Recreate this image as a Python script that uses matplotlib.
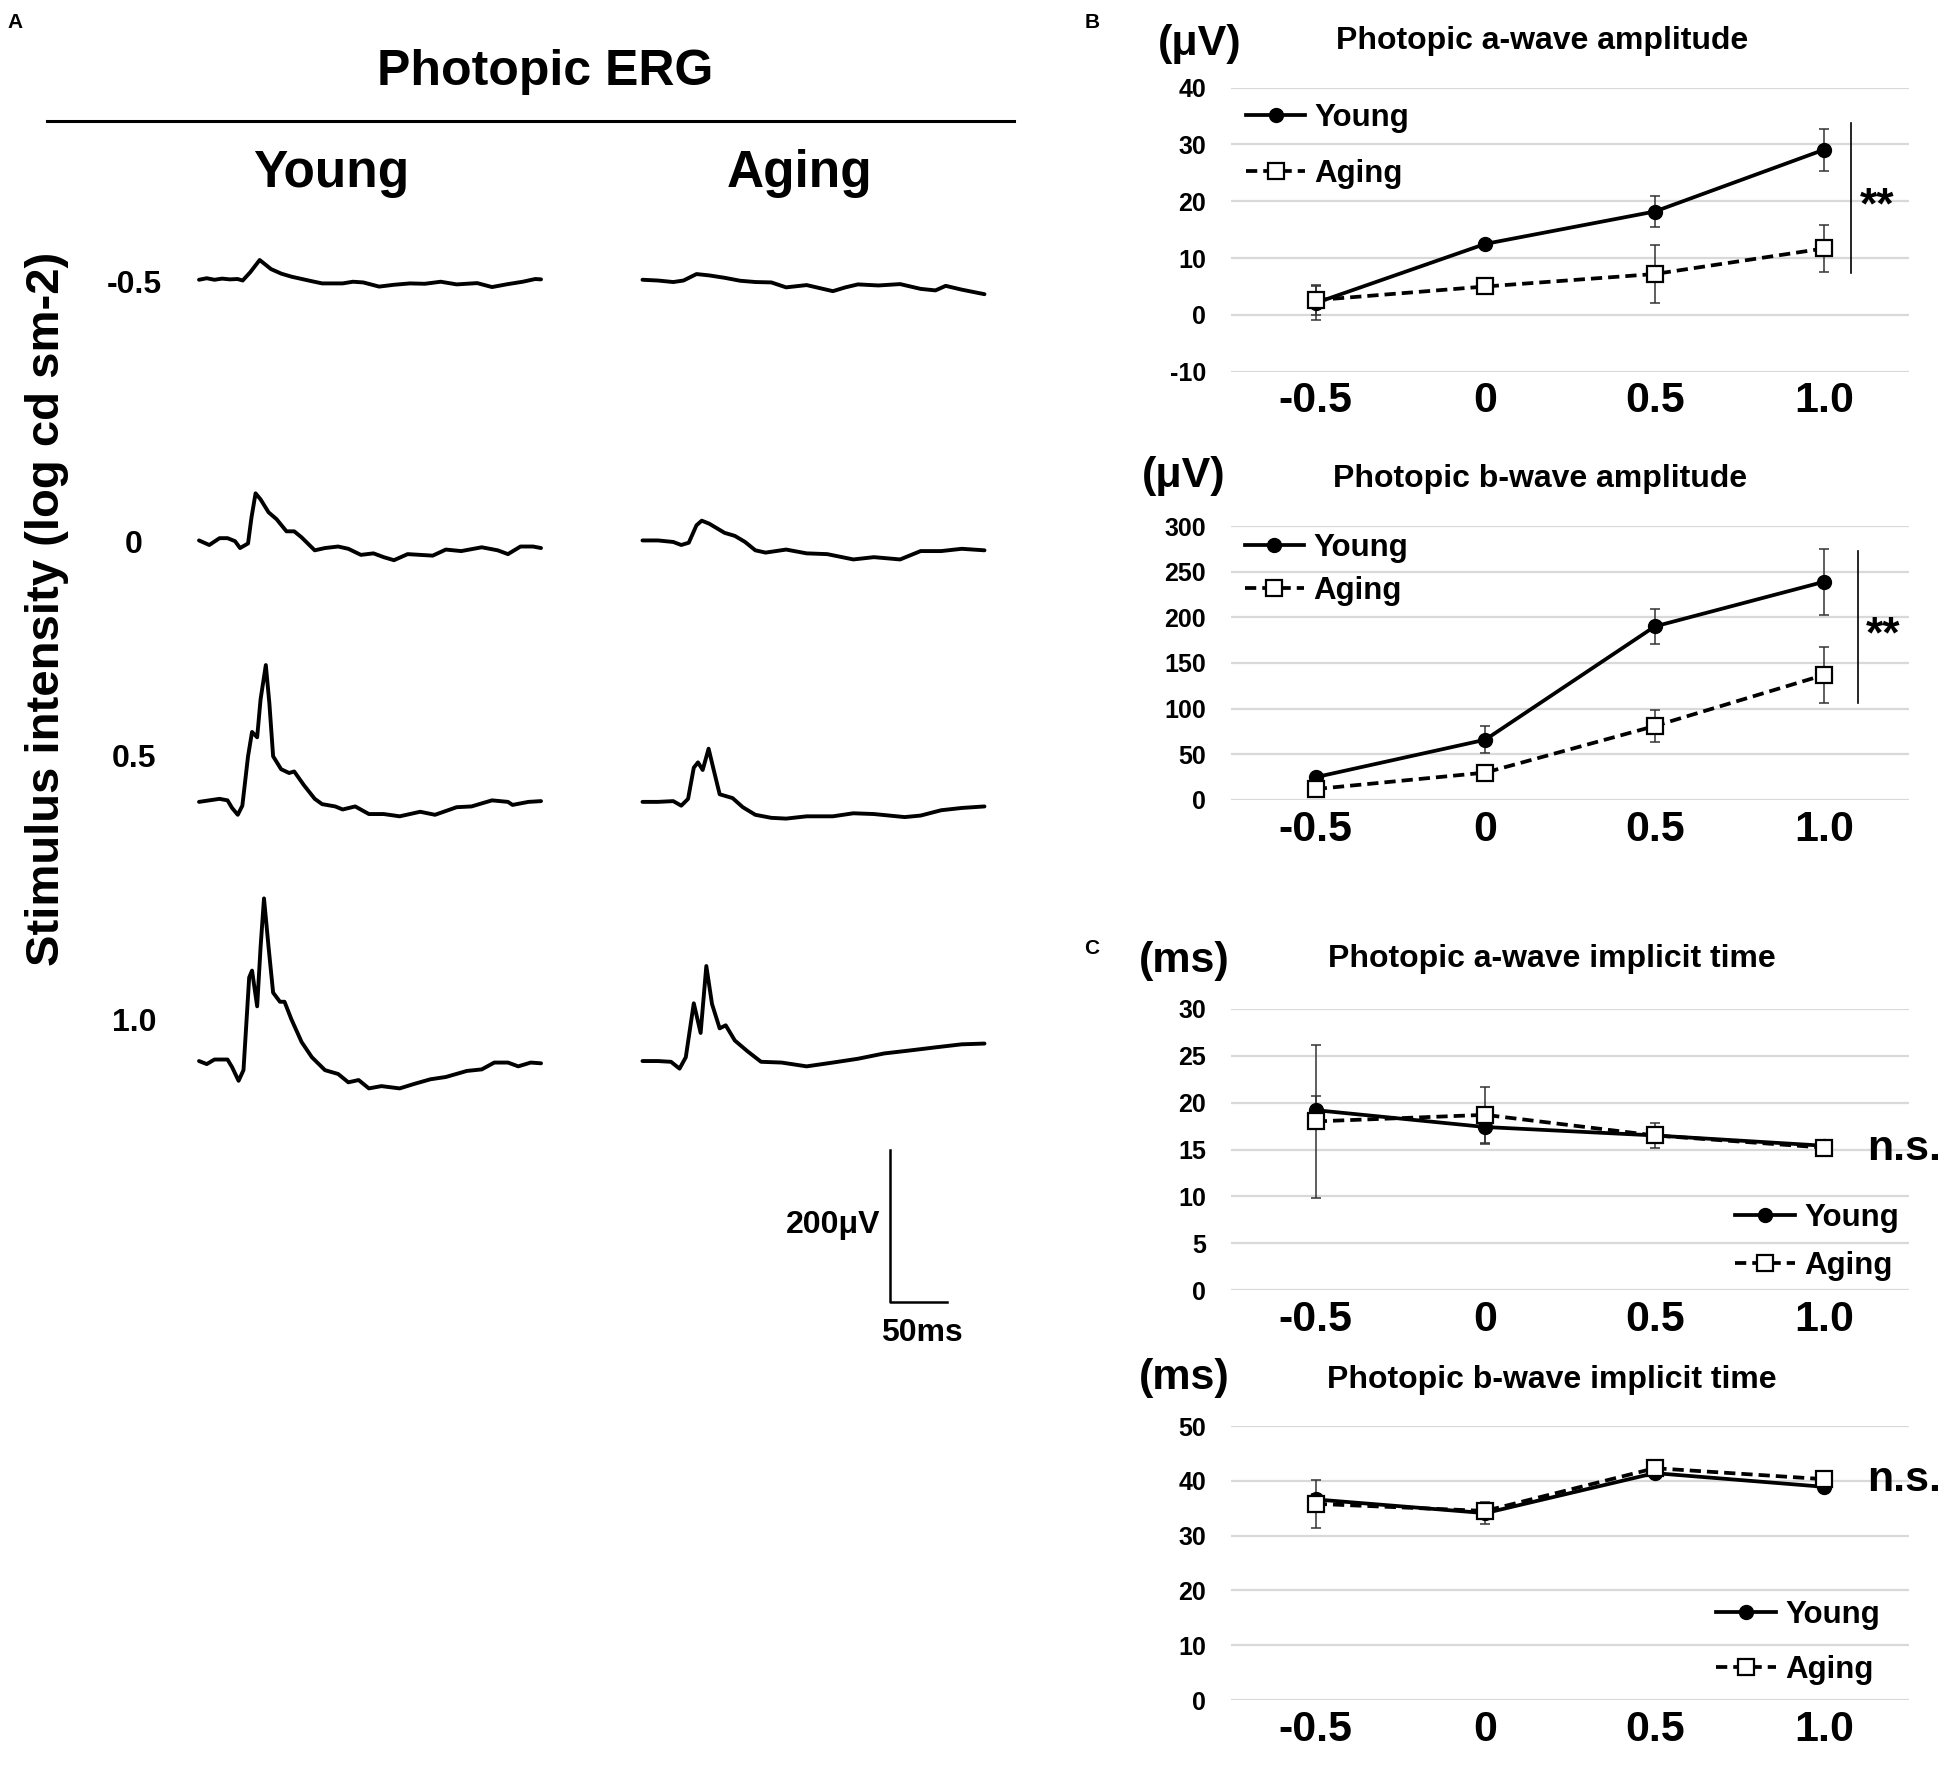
import matplotlib
matplotlib.use('Agg')
import matplotlib.pyplot as plt
from matplotlib.lines import Line2D

plt.rcParams['font.family'] = ['Liberation Sans', 'DejaVu Sans']
plt.rcParams['font.weight'] = 'bold'
plt.rcParams['axes.unicode_minus'] = False

# ---------------- data ----------------
intensity_labels = ["-0.5", "0", "0.5", "1.0"]

# Panel B: amplitudes (µV)
a_amp_young = [2.1, 12.5, 18.2, 29.1]
a_amp_young_err = [3.0, 0.5, 2.8, 3.7]
a_amp_aging = [2.6, 5.0, 7.2, 11.7]
a_amp_aging_err = [2.6, 0.4, 5.1, 4.1]

b_amp_young = [25, 66, 190, 239]
b_amp_young_err = [3, 15, 19, 36]
b_amp_aging = [12, 30, 81, 137]
b_amp_aging_err = [3, 4, 18, 31]

# Panel C: implicit times (ms)
a_time_young = [19.2, 17.4, 16.5, 15.4]
a_time_young_err = [1.5, 1.8, 0.5, 0.3]
a_time_aging = [18.0, 18.7, 16.5, 15.2]
a_time_aging_err = [8.2, 3.0, 1.3, 0.4]

b_time_young = [36.6, 34.1, 41.4, 38.9]
b_time_young_err = [1.0, 2.0, 0.8, 0.8]
b_time_aging = [35.8, 34.5, 42.3, 40.3]
b_time_aging_err = [4.4, 1.0, 0.8, 0.8]

# Panel A: ERG traces (time ms, amplitude µV)
young_m05_t = [0, 6.8, 13.5, 20.3, 27, 33.8, 38.3, 45, 53.2, 63.2, 72.2, 81.2, 99.2, 108, 126, 135, 144, 158, 171, 185, 198, 212, 226, 244, 257, 271, 284, 295, 300]
young_m05_v = [0, 2, 0, 1.5, 0.5, 1, -1, 10, 26, 14, 8, 4, -2, -4.8, -4.8, -2.6, -3.5, -9, -6.6, -4.8, -5.3, -2.6, -6.1, -4.4, -9.6, -5.7, -2.6, 1, 0.5]
aging_m05_t = [0, 13.5, 27, 36, 47.4, 58.6, 72, 85.7, 99.2, 113, 126, 144, 167, 178, 189, 207, 226, 244, 257, 266, 280, 300]
aging_m05_v = [0, -1, -3, -1, 7.5, 5.7, 2.6, -1.3, -3, -3.5, -10, -7, -15, -10, -6.1, -7.5, -5.7, -12, -14, -8, -13, -19]

young_0_t = [0, 9, 18, 25, 31.6, 36, 43, 46, 49.6, 54, 61, 68, 76.7, 83.5, 90, 101.5, 110.5, 122, 131, 142, 153, 162, 171, 183, 194, 205, 216.5, 230, 248, 262, 271, 282, 293, 300]
young_0_v = [0, -6, 3, 3, -1, -10, -4, 30, 62, 54, 37, 28, 12, 12, 4, -13, -10, -8, -11, -19, -17, -22, -26, -18, -19, -20, -12, -14, -9, -13, -18, -8, -8, -10]
aging_0_t = [0, 13.5, 27, 34, 40.6, 47.4, 52, 58.6, 72, 81, 90, 99, 108, 126, 144, 162, 185, 203, 226, 244, 262, 280, 300]
aging_0_v = [0, 0, -2, -6, -3, 20, 26, 22, 10, 6, -2, -13, -16, -12, -17, -18, -25, -22, -25, -14, -14, -11, -13]

young_05_t = [0, 9, 18, 25, 29, 34, 38, 43, 46.5, 51, 54, 58.6, 61.7, 65, 72, 79, 83.5, 92, 101.5, 108, 119.5, 126, 137, 149, 162, 176, 194, 207, 226, 239, 257, 271, 275, 289, 300]
young_05_v = [0, 2, 4, 2, -8, -17, -5, 60, 92, 85, 135, 180, 130, 60, 43, 38, 40, 22, 4, -3, -6, -10, -6, -16, -16, -19, -13, -17, -7, -6, 2, 0, -4, 0, 1]
aging_05_t = [0, 13.5, 27, 34, 40, 45, 48.7, 52.8, 58, 62, 67.7, 79, 88, 99, 113, 126, 144, 167, 185, 203, 230, 244, 262, 280, 300]
aging_05_v = [0, 0, 1, -5, 4, 45, 52, 42, 70, 45, 10, 5, -7, -17, -21, -22, -19, -19, -15, -16, -20, -18, -11, -8, -6]

young_10_t = [0, 6.8, 13.5, 25, 29, 34.7, 39, 44, 46.5, 51, 54, 57, 61, 65, 71, 75, 81, 90, 99, 110.5, 122, 131, 140, 149, 160, 176, 189, 203, 216.5, 235, 248, 259, 271, 280, 291, 300]
young_10_v = [0, -4, 2, 2, -8, -26, -12, 110, 119, 72, 150, 214, 150, 90, 78, 78, 55, 25, 5, -12, -17, -28, -25, -36, -33, -36, -30, -24, -21, -13, -11, -2, -2, -7, -2, -3]
aging_10_t = [0, 13.5, 25, 32.5, 38, 45, 51, 56, 61, 67.7, 73, 81, 92, 104, 122, 144, 167, 189, 212, 235, 257, 280, 300]
aging_10_v = [0, 0, -1, -10, 5, 76, 37, 125, 75, 43, 47, 27, 13, -1, -2, -7, -2, 3, 10, 14, 18, 22, 23]

row_labels = ["-0.5", "0", "0.5", "1.0"]
group_labels = ["Young", "Aging"]

# ---------------- layout helpers ----------------
W, H = 1950, 1782
fig = plt.figure(figsize=(W / 100, H / 100), dpi=100)


def px_axes(l, t, r, b):
    return fig.add_axes([l / W, 1 - b / H, (r - l) / W, (b - t) / H])


def ftext(x, y, s, **kw):
    fig.text(x / W, 1 - y / H, s, **kw)


# ---------------- Panel A ----------------
ms_px = 1.14     # px per ms
uv_px = 0.76     # px per µV
axA = px_axes(150, 240, 1040, 1400)
x0 = -43
y0 = -446
axA.set_xlim(x0, x0 + 890 / ms_px)
axA.set_ylim(y0, y0 + 1160 / uv_px)
axA.axis('off')

col_offset = {"Young": 0, "Aging": 389}
row_offset = {"-0.5": 1028, "0": 685, "0.5": 341, "1.0": 0}
traces = [
    ("-0.5", "Young", young_m05_t, young_m05_v), ("-0.5", "Aging", aging_m05_t, aging_m05_v),
    ("0", "Young", young_0_t, young_0_v), ("0", "Aging", aging_0_t, aging_0_v),
    ("0.5", "Young", young_05_t, young_05_v), ("0.5", "Aging", aging_05_t, aging_05_v),
    ("1.0", "Young", young_10_t, young_10_v), ("1.0", "Aging", aging_10_t, aging_10_v),
]
for row, grp, t, v in traces:
    axA.plot([ti + col_offset[grp] for ti in t], [vi + row_offset[row] for vi in v],
             color='black', lw=2.8, solid_joinstyle='round', solid_capstyle='round')

# scale bar
sb_uv, sb_ms = 200, 50
sb_x, sb_y = 606, -317
axA.plot([sb_x, sb_x, sb_x + sb_ms], [sb_y + sb_uv, sb_y, sb_y], color='black', lw=1.8)
ftext(880, 1225, "200μV", ha='right', va='center', fontsize=23)
ftext(922, 1333, "50ms", ha='center', va='center', fontsize=23)

ftext(15, 22, "A", ha='center', va='center', fontsize=15)
ftext(545, 72, "Photopic ERG", ha='center', va='center', fontsize=36)
fig.add_artist(Line2D([47 / W, 1014 / W], [1 - 121 / H, 1 - 121 / H], color='black', lw=2.2))
ftext(331, 174, "Young", ha='center', va='center', fontsize=37)
ftext(800, 174, "Aging", ha='center', va='center', fontsize=37)
ftext(47, 609, "Stimulus intensity (log cd sm-2)", ha='center', va='center', rotation=90, fontsize=34)
for lab, yy in zip(row_labels, [285, 545, 759, 1023]):
    ftext(134, yy, lab, ha='center', va='center', fontsize=23)

# ---------------- Panels B & C ----------------
xpos = list(range(len(intensity_labels)))


def line_panel(box, ylim, yticks, young, young_err, aging, aging_err):
    ax = px_axes(*box)
    ax.set_xlim(-0.5, 3.5)
    ax.set_ylim(*ylim)
    ax.set_yticks(yticks)
    ax.set_xticks(xpos)
    ax.set_xticklabels(intensity_labels, fontsize=31)
    ax.tick_params(axis='x', length=0, pad=7)
    ax.tick_params(axis='y', length=0, pad=18, labelsize=18)
    for s in ax.spines.values():
        s.set_visible(False)
    ax.grid(axis='y', color='#d9d9d9', lw=1.6)
    ax.set_axisbelow(True)
    ax.errorbar(xpos, young, yerr=young_err, fmt='none', ecolor='#333333',
                elinewidth=1.1, capsize=3.5, capthick=1.1, zorder=2)
    ax.errorbar(xpos, aging, yerr=aging_err, fmt='none', ecolor='#333333',
                elinewidth=1.1, capsize=3.5, capthick=1.1, zorder=2)
    hy, = ax.plot(xpos, young, color='black', lw=2.7, marker='o', ms=10,
                  mfc='black', mec='black', zorder=3, label='Young')
    ha, = ax.plot(xpos, aging, color='black', lw=2.7, ls=(0, (3, 1.6)), marker='s', ms=11,
                  mfc='white', mec='black', mew=1.6, zorder=4, label='Aging')
    return ax, hy, ha


leg_kw = dict(frameon=False, fontsize=22.5, handlelength=1.9, handletextpad=0.3,
              borderaxespad=0, borderpad=0, numpoints=1)

# B top: a-wave amplitude
ax1, hy, ha = line_panel((1231, 87.7, 1909, 371.7), (-10, 40), [-10, 0, 10, 20, 30, 40],
                         a_amp_young, a_amp_young_err, a_amp_aging, a_amp_aging_err)
ax1.legend(handles=[hy, ha], loc='center left', bbox_to_anchor=(0.022, 0.795),
           labelspacing=0.85, **leg_kw)
ax1.plot([3.16, 3.16], [7.3, 33.8], color='black', lw=1.2)
ax1.text(3.31, 19.0, "**", ha='center', va='center', fontsize=32)

# B bottom: b-wave amplitude
ax2, hy, ha = line_panel((1231, 526, 1909, 800), (0, 300), [0, 50, 100, 150, 200, 250, 300],
                         b_amp_young, b_amp_young_err, b_amp_aging, b_amp_aging_err)
ax2.legend(handles=[hy, ha], loc='center left', bbox_to_anchor=(0.02, 0.841),
           labelspacing=0.42, **leg_kw)
ax2.plot([3.20, 3.20], [106.6, 272.6], color='black', lw=1.2)
ax2.text(3.35, 180, "**", ha='center', va='center', fontsize=32)

# C top: a-wave implicit time
ax3, hy, ha = line_panel((1231, 1009, 1909, 1290), (0, 30), [0, 5, 10, 15, 20, 25, 30],
                         a_time_young, a_time_young_err, a_time_aging, a_time_aging_err)
ax3.legend(handles=[hy, ha], loc='center right', bbox_to_anchor=(0.985, 0.172),
           labelspacing=0.58, **leg_kw)
ax3.text(3.47, 15.1, "n.s.", ha='center', va='center', fontsize=31, clip_on=False)

# C bottom: b-wave implicit time
ax4, hy, ha = line_panel((1231, 1426, 1909, 1700), (0, 50), [0, 10, 20, 30, 40, 50],
                         b_time_young, b_time_young_err, b_time_aging, b_time_aging_err)
ax4.legend(handles=[hy, ha], loc='center right', bbox_to_anchor=(0.957, 0.209),
           labelspacing=0.8, **leg_kw)
ax4.text(3.47, 40.1, "n.s.", ha='center', va='center', fontsize=31, clip_on=False)

# panel labels, units and titles
ftext(1092, 22, "B", ha='center', va='center', fontsize=15)
ftext(1092, 948, "C", ha='center', va='center', fontsize=15)
for (ux, uy, u), (tx, ty, title) in zip(
        [(1200, 44, "(μV)"), (1184, 476, "(μV)"), (1184, 961, "(ms)"), (1184, 1378, "(ms)")],
        [(1542, 41, "Photopic a-wave amplitude"), (1540, 479, "Photopic b-wave amplitude"),
         (1552, 959, "Photopic a-wave implicit time"), (1552, 1380, "Photopic b-wave implicit time")]):
    ftext(ux, uy, u, ha='center', va='center', fontsize=31)
    ftext(tx, ty, title, ha='center', va='center', fontsize=23)

fig.savefig('out.png', dpi=100, facecolor='white')
